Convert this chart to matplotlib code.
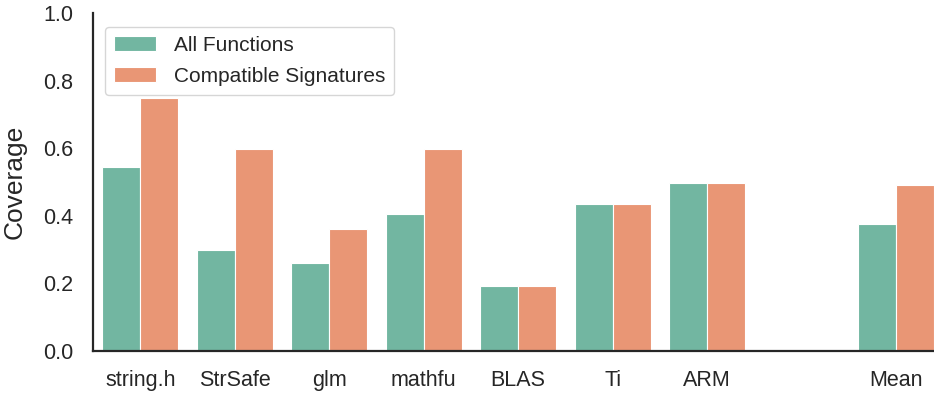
import matplotlib
matplotlib.use("Agg")
import matplotlib.pyplot as plt
import numpy as np
import seaborn as sns

libraries = ["string.h", "StrSafe", "glm", "mathfu", "BLAS", "Ti", "ARM", "", "Mean"]
all_functions = [0.545, 0.298, 0.259, 0.404, 0.191, 0.434, 0.497, np.nan, 0.375]
compatible = [0.748, 0.597, 0.360, 0.597, 0.191, 0.434, 0.497, np.nan, 0.490]
series_names = ["All Functions", "Compatible Signatures"]

sns.set_theme(style="white")
plt.rcParams["font.family"] = ["Liberation Sans", "DejaVu Sans"]
pal = [sns.desaturate(c, 0.75) for c in sns.color_palette("Set2", 2)]

fig = plt.figure(figsize=(9.34, 3.94), dpi=100)
ax = fig.add_axes([0.0996, 0.109, 0.9004, 0.858])
x = np.arange(len(libraries)); w = 0.4
for i, (name, vals) in enumerate(zip(series_names, [all_functions, compatible])):
    ax.bar(x - w / 2 + i * w, vals, w, color=pal[i], edgecolor="white", linewidth=0.8, label=name)

ax.set_xticks(x); ax.set_xticklabels(libraries)
ax.set_xlim(-0.5, 8.4); ax.set_ylim(0, 1.0)
ax.set_yticks([0, 0.2, 0.4, 0.6, 0.8, 1.0])
ax.tick_params(labelsize=15.5, pad=8)
ax.set_ylabel("Coverage", fontsize=19, labelpad=12)
for s in ["top", "right"]: ax.spines[s].set_visible(False)
for s in ["left", "bottom"]: ax.spines[s].set_color("#262626"); ax.spines[s].set_linewidth(1.6)
ax.legend(loc="upper left", bbox_to_anchor=(0.002, 0.99), fontsize=15, frameon=True,
          borderpad=0.42, labelspacing=0.6, handletextpad=0.9)
fig.savefig("out.png", dpi=100)
